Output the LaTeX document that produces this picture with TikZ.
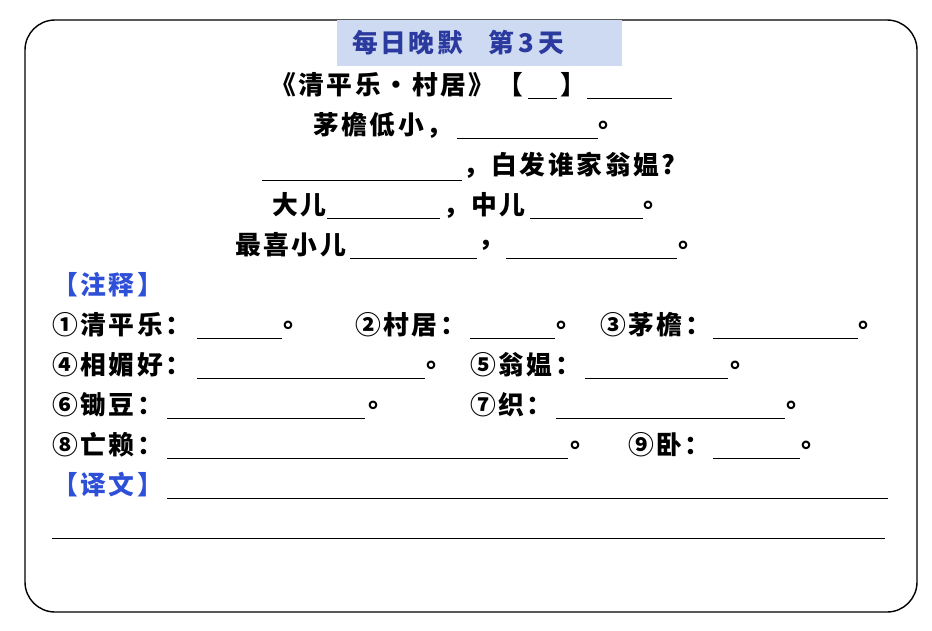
\documentclass[tikz,border=0pt]{standalone}
\usepackage{fontspec}
\newfontfamily\cjk[LetterSpace=10]{Noto Sans CJK SC}
\definecolor{tblue}{HTML}{2B3A9E}
\definecolor{tfill}{HTML}{CED9F2}
\definecolor{lblue}{HTML}{2E4FD8}
\begin{document}
\begin{tikzpicture}[x=0.03cm,y=-0.03cm,
  t/.style={anchor=west,inner sep=0pt,font=\cjk\fontsize{22}{22}\selectfont\bfseries},
  bl/.style={t,text=lblue},
  ul/.style={line width=0.8pt}]
\useasboundingbox (0,0) rectangle (932,630);
\draw[line width=1.2pt,rounded corners=0.9cm] (25,20) rectangle (917,612);
\fill[tfill] (337,20) rectangle (622,66);
\node[t,text=tblue] (title) at (352,43) {每日晚默\quad 第\,3\,天};
% row1
\node[t] (r1a) at (270,85) {《清平乐·村居》【};
\draw[ul] (528,98) -- (557,98);
\node[t] (r1b) at (560,85) {】};
\draw[ul] (587,98) -- (672,98);
% row2
\node[t] (r2a) at (313,125) {茅檐低小，};
\draw[ul] (457,138) -- (598,138);
\node[t] (r2b) at (598,125) {。};
% row3
\draw[ul] (262,180) -- (462,180);
\node[t] (r3a) at (463,165) {，白发谁家翁媪?};
% row4
\node[t] (r4a) at (272,205) {大儿};
\draw[ul] (327,218) -- (440,218);
\node[t] (r4b) at (443,205) {，中儿};
\draw[ul] (530,218) -- (643,218);
\node[t] (r4c) at (643,205) {。};
% row5
\node[t] (r5a) at (235,245) {最喜小儿};
\draw[ul] (350,258) -- (477,258);
\node[t] (r5b) at (478,245) {，};
\draw[ul] (506,258) -- (677,258);
\node[t] (r5c) at (678,245) {。};
% notes
\node[bl] (zs) at (52,285) {【注释】};
\node[t] (n1) at (52,325) {①清平乐：};
\draw[ul] (197,338) -- (282,338);
\node[t] (n1e) at (283,325) {。};
\node[t] (n2) at (355,325) {②村居：};
\draw[ul] (470,338) -- (555,338);
\node[t] (n2e) at (556,325) {。};
\node[t] (n3) at (600,325) {③茅檐：};
\draw[ul] (713,338) -- (858,338);
\node[t] (n3e) at (858,325) {。};
\node[t] (n4) at (52,365) {④相媚好：};
\draw[ul] (197,378) -- (425,378);
\node[t] (n4e) at (426,365) {。};
\node[t] (n5) at (470,365) {⑤翁媪：};
\draw[ul] (585,378) -- (728,378);
\node[t] (n5e) at (730,365) {。};
\node[t] (n6) at (52,405) {⑥锄豆：};
\draw[ul] (167,418) -- (365,418);
\node[t] (n6e) at (368,405) {。};
\node[t] (n7) at (470,405) {⑦织：};
\draw[ul] (556,418) -- (785,418);
\node[t] (n7e) at (786,405) {。};
\node[t] (n8) at (52,445) {⑧亡赖：};
\draw[ul] (167,458) -- (568,458);
\node[t] (n8e) at (570,445) {。};
\node[t] (n9) at (628,445) {⑨卧：};
\draw[ul] (713,458) -- (800,458);
\node[t] (n9e) at (801,445) {。};
\node[bl] (yw) at (52,485) {【译文】};
\draw[ul] (167,498) -- (888,498);
\draw[ul] (52,538) -- (885,538);
\end{tikzpicture}
\end{document}
